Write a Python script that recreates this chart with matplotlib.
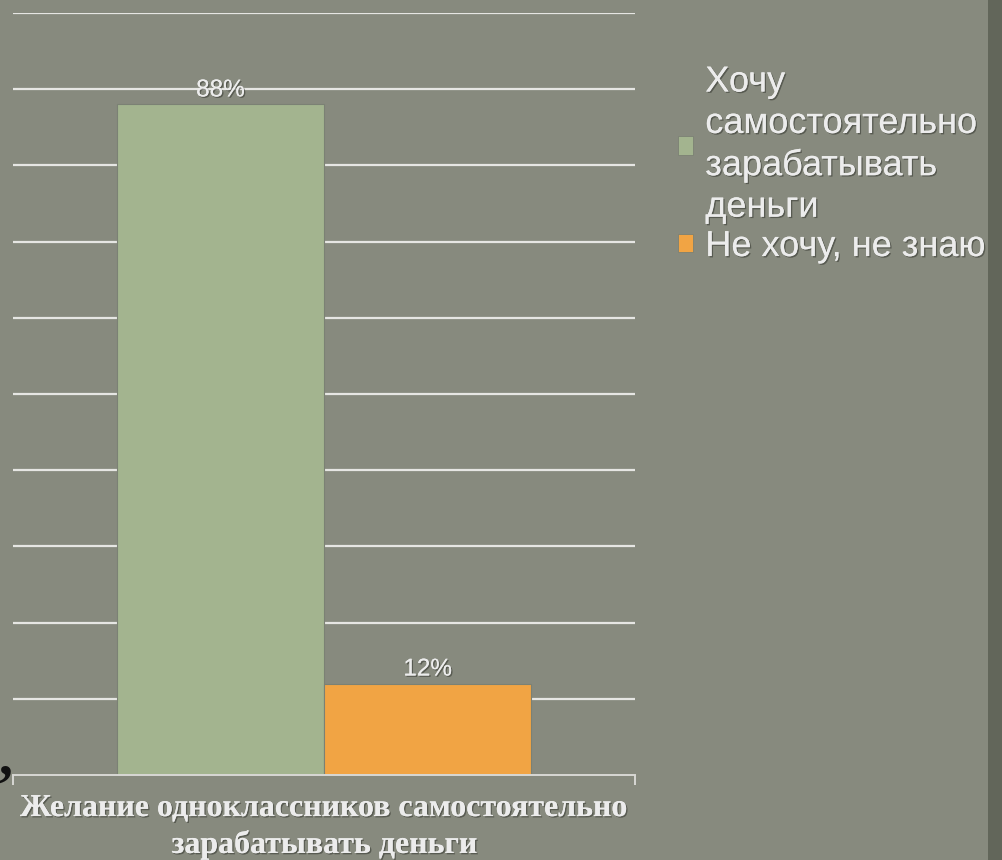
#!/usr/bin/env python3
import matplotlib
matplotlib.use("Agg")
import matplotlib.pyplot as plt
import matplotlib.patheffects as pe
from matplotlib.patches import Patch, Rectangle

# data
series = ["Хочу\nсамостоятельно\nзарабатывать\nденьги", "Не хочу, не знаю"]
values = [88, 12]
labels = ["88%", "12%"]
colors = ["#a3b48f", "#f1a444"]
title = "Желание одноклассников самостоятельно\nзарабатывать деньги"

BG = "#878a7e"
TXT = "#ececec"
shadow = [pe.withSimplePatchShadow(offset=(1, -1), shadow_rgbFace="#3a3c35", alpha=0.6), pe.Normal()]

fig = plt.figure(figsize=(10.02, 8.6), dpi=100, facecolor=BG)

# darker worn strip on right edge
fig.patches.append(Rectangle((0.986, 0), 0.014, 1, transform=fig.transFigure,
                             facecolor="#62665a", edgecolor="none", zorder=0))

ax = fig.add_axes([13 / 1002, 85 / 860, 622 / 1002, 762 / 860])
ax.set_facecolor("none")
ax.set_xlim(-1.5, 1.5)
ax.set_ylim(0, 100)

for y in range(10, 101, 10):
    ax.axhline(y, color="#e6e6e3", lw=1.6, zorder=1)

xs = [-0.5, 0.5]
bars = ax.bar(xs, values, width=1.0, color=colors, edgecolor="#7b8174", linewidth=0.8, zorder=2)
for x, v, lab in zip(xs, values, labels):
    ax.text(x, v + 0.4, lab, ha="center", va="bottom", fontsize=17.5, color=TXT,
            family="Liberation Sans", zorder=3, path_effects=shadow)

for s in ["top", "right", "left"]:
    ax.spines[s].set_visible(False)
ax.spines["bottom"].set_color("#d8d8d4")
ax.spines["bottom"].set_linewidth(1.4)
ax.set_yticks([])
ax.set_xticks([-1.5, 1.5])
ax.set_xticklabels(["", ""])
ax.tick_params(axis="x", length=7, width=1.4, color="#d8d8d4", direction="out")

fig.text(325 / 1002, 1 - 827 / 860, title, ha="center", va="center", fontsize=23,
         fontweight="bold", family="Liberation Serif", color=TXT, linespacing=1.3,
         path_effects=shadow)

handles = [Patch(facecolor=c, edgecolor="#7b8174", linewidth=0.6) for c in colors]
leg = fig.legend(handles, series, loc="upper left", bbox_to_anchor=(645 / 1002, 1 - 32 / 860),
                 frameon=False, handlelength=0.42, handleheight=0.42,
                 handletextpad=0.35, labelspacing=0.12,
                 prop={"family": "Liberation Sans", "size": 26})
for t in leg.get_texts():
    t.set_color(TXT)
    t.set_linespacing(1.24)
    t.set_path_effects(shadow)

fig.text(-0.002, 1 - 760 / 860, ",", fontsize=40, color="#111111", family="Liberation Serif",
         fontweight="bold", ha="left", va="center")

fig.savefig("out.png", dpi=100, facecolor=BG)
